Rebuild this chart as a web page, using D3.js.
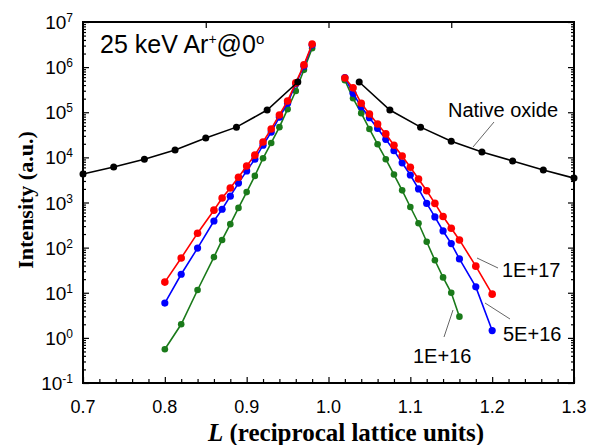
<!DOCTYPE html>
<html>

<head>
  <meta http-equiv="content-type" content="text/html; charset=utf-8">
  <title>Intensity vs L</title>
  <style>
    body { margin: 0; background: #fff; }
    .tick_label { font-family: "Liberation Sans", Arial, sans-serif; font-size: 18px; fill: #000; }
    .axis_title { font-family: "Liberation Serif", "Times New Roman", serif; font-size: 25px; font-weight: bold; fill: #000; }
    .note { font-family: "Liberation Sans", Arial, sans-serif; font-size: 20px; fill: #000; }
    .leader { stroke: #666; stroke-width: 1; }
  </style>
</head>

<body>
  <svg id="canvas"></svg>
  <script src="https://d3js.org/d3.v7.min.js"></script>
  <script>

    // left branch (L < 1), right branch (L > 1)
    const x_left = [0.80, 0.82, 0.84, 0.86, 0.87, 0.88, 0.89, 0.90, 0.91, 0.92, 0.93, 0.94, 0.95, 0.96, 0.97, 0.98];
    const x_right = [1.02, 1.03, 1.04, 1.05, 1.06, 1.07, 1.08, 1.09, 1.10, 1.11, 1.12, 1.13, 1.14, 1.15, 1.16, 1.18, 1.20];
    const x_right_green = [1.02, 1.03, 1.04, 1.05, 1.06, 1.07, 1.08, 1.09, 1.10, 1.11, 1.12, 1.13, 1.14, 1.15, 1.16];
    const x_oxide_left = [0.7, 0.7375, 0.775, 0.8125, 0.85, 0.8875, 0.925, 0.9625];
    const x_oxide_right = [1.0375, 1.075, 1.1125, 1.15, 1.1875, 1.225, 1.2625, 1.3];

    const red_left = [17.2, 59, 209, 676, 1260, 2090, 3630, 6460, 11200, 21900, 42700, 87100, 178000, 447000, 1120000, 3240000];
    const blue_left = [5.9, 25.7, 97.7, 389, 708, 1380, 2690, 5010, 9120, 18600, 36300, 77600, 158000, 427000, 1050000, 3090000];
    const green_left = [0.56, 2.0, 11.5, 61.7, 148, 331, 759, 1700, 3890, 9550, 20900, 46800, 117000, 295000, 871000, 2630000];

    const red_right = [575000, 347000, 158000, 91200, 55000, 33100, 18600, 10700, 6030, 3310, 1820, 955, 490, 269, 148, 38.9, 9.3];
    const blue_right = [589000, 263000, 132000, 75900, 43700, 25100, 14100, 7590, 4070, 2000, 955, 479, 234, 123, 56.2, 13.5, 1.45];
    const green_right = [513000, 204000, 95500, 42700, 19500, 9120, 4170, 1860, 794, 347, 135, 52.5, 21.9, 10, 2.95];

    const oxide_left = [4270, 6100, 9120, 14500, 26900, 46800, 112000, 468000];
    const oxide_right = [468000, 112000, 46800, 22900, 13200, 8320, 5250, 3470];

    const x_ticks = [0.7, 0.8, 0.9, 1.0, 1.1, 1.2, 1.3];
    const x_tick_labels = ["0.7", "0.8", "0.9", "1.0", "1.1", "1.2", "1.3"];
    const x_top_ticks = [0.85, 1.0, 1.15];
    const y_exponents = [-1, 0, 1, 2, 3, 4, 5, 6, 7];

    const dims = { width: 592, height: 445, left: 83, top: 22, right: 574, bottom: 383 };

    const svg = d3.select("svg#canvas")
      .attr("width", dims.width)
      .attr("height", dims.height);

    const x = d3.scaleLinear().domain([0.7, 1.3]).range([dims.left, dims.right]);
    const y = d3.scaleLog().domain([0.1, 1e7]).range([dims.bottom, dims.top]);

    const minor_x = d3.range(35, 66).map(i => i / 50).filter(v => !x_ticks.some(t => Math.abs(t - v) < 1e-6));
    const minor_y = [];
    y_exponents.slice(0, -1).forEach(e => { for (let m = 2; m <= 9; m++) minor_y.push(m * Math.pow(10, e)); });
    const major_y = y_exponents.map(e => Math.pow(10, e));

    const tick_axis = (axis, size, values, tr) => {
      const g = svg.append("g").attr("transform", tr)
        .call(axis.tickValues(values).tickSizeInner(size).tickSizeOuter(0).tickFormat(""));
      g.select(".domain").remove();
      g.selectAll(".tick line").attr("stroke", "#000").attr("stroke-width", 1.2);
      return g;
    };

    tick_axis(d3.axisBottom(x), -6, x_ticks, `translate(0,${dims.bottom})`);
    tick_axis(d3.axisBottom(x), -4, minor_x, `translate(0,${dims.bottom})`);
    tick_axis(d3.axisTop(x), -6, x_top_ticks, `translate(0,${dims.top})`);
    tick_axis(d3.axisLeft(y), -6, major_y, `translate(${dims.left},0)`);
    tick_axis(d3.axisLeft(y), -3, minor_y, `translate(${dims.left},0)`);
    tick_axis(d3.axisRight(y), -6, major_y, `translate(${dims.right},0)`);
    tick_axis(d3.axisRight(y), -3, minor_y, `translate(${dims.right},0)`);

    svg.append("rect")
      .attr("x", dims.left).attr("y", dims.top)
      .attr("width", dims.right - dims.left).attr("height", dims.bottom - dims.top)
      .attr("fill", "none").attr("stroke", "#000").attr("stroke-width", 2);

    svg.selectAll(".x_label")
      .data(x_ticks)
      .enter().append("text")
      .attr("class", "tick_label")
      .attr("x", d => x(d))
      .attr("y", dims.bottom + 30)
      .attr("text-anchor", "middle")
      .text((_, i) => x_tick_labels[i]);

    const y_labels = svg.selectAll(".y_label")
      .data(y_exponents)
      .enter().append("text")
      .attr("class", "tick_label")
      .attr("x", dims.left - 10)
      .attr("y", e => y(Math.pow(10, e)) + 7)
      .attr("text-anchor", "end")
      .style("font-size", "19px");
    y_labels.append("tspan").text("10");
    y_labels.append("tspan").attr("dy", -7).style("font-size", "12px").text(e => e);

    svg.append("text")
      .attr("class", "axis_title")
      .attr("transform", "translate(33,200)rotate(-90)")
      .attr("text-anchor", "middle")
      .style("font-size", "22px")
      .text("Intensity (a.u.)");

    const xt = svg.append("text")
      .attr("class", "axis_title")
      .attr("x", 346)
      .attr("y", 441)
      .attr("text-anchor", "middle");
    xt.append("tspan").style("font-style", "italic").text("L");
    xt.append("tspan").text(" (reciprocal lattice units)");

    const series = [
      { color: "#1a7a1a", r: 3.3, parts: [[x_left, green_left], [x_right_green, green_right]] },
      { color: "#0000ff", r: 3.6, parts: [[x_left, blue_left], [x_right, blue_right]] },
      { color: "#ff0000", r: 3.8, parts: [[x_left, red_left], [x_right, red_right]] },
      { color: "#000000", r: 3.5, parts: [[x_oxide_left, oxide_left], [x_oxide_right, oxide_right]] }
    ];

    const line = d3.line().x(p => x(p[0])).y(p => y(p[1]));

    series.forEach(s => {
      const g = svg.append("g");
      s.parts.forEach(([xs, vs]) => {
        const pts = xs.map((v, i) => [v, vs[i]]);
        g.append("path")
          .attr("d", line(pts))
          .attr("fill", "none")
          .attr("stroke", s.color)
          .attr("stroke-width", 1.6);
        g.selectAll(null)
          .data(pts)
          .enter().append("circle")
          .attr("cx", p => x(p[0]))
          .attr("cy", p => y(p[1]))
          .attr("r", s.r)
          .attr("fill", s.color);
      });
    });

    // annotations
    const title = svg.append("text")
      .attr("class", "note")
      .attr("x", 100)
      .attr("y", 53)
      .style("font-size", "25px");
    title.append("tspan").text("25 keV Ar");
    title.append("tspan").attr("dy", -9).style("font-size", "14px").text("+");
    title.append("tspan").attr("dy", 9).text("@0");
    title.append("tspan").attr("dy", -9).style("font-size", "15px").text("o");

    const notes = [
      { text: "Native oxide", tx: 448, ty: 117, l: [494, 122, 473, 147] },
      { text: "1E+17", tx: 502, ty: 277, l: [477, 258, 498, 268] },
      { text: "5E+16", tx: 503, ty: 341, l: [485, 303, 510, 319] },
      { text: "1E+16", tx: 413, ty: 363, l: [453, 310, 444, 337] }
    ];

    notes.forEach(n => {
      svg.append("line")
        .attr("class", "leader")
        .attr("x1", n.l[0]).attr("y1", n.l[1])
        .attr("x2", n.l[2]).attr("y2", n.l[3]);
      svg.append("text")
        .attr("class", "note")
        .attr("x", n.tx)
        .attr("y", n.ty)
        .text(n.text);
    });

  </script>
</body>

</html>
